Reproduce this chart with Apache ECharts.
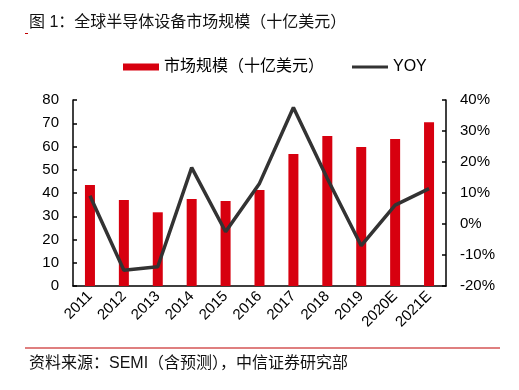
<!DOCTYPE html>
<html><head><meta charset="utf-8">
<script src="https://cdn.jsdelivr.net/npm/echarts@6/dist/echarts.min.js"></script>
<style>html,body{margin:0;padding:0;background:#fff}#c{width:519px;height:390px}</style>
</head><body><div id="c"></div>
<script>
const categories = ['2011','2012','2013','2014','2015','2016','2017','2018','2019','2020E','2021E'];
const marketSize = [43.4, 37.0, 31.7, 37.4, 36.6, 41.3, 56.8, 64.5, 59.8, 63.2, 70.4];
const yoy = [9.1, -14.9, -13.8, 18.2, -2.5, 13.1, 37.6, 14.7, -7.0, 6.1, 11.4];
const leftTicks = {min: 0, max: 80, interval: 10};
const rightTicks = {min: -20, max: 40, interval: 10};
const titleText = '图 1：全球半导体设备市场规模（十亿美元）';
const sourceText = '资料来源：SEMI（含预测），中信证券研究部';
const seriesNames = ['市场规模（十亿美元）', 'YOY'];

const FONT = '"Liberation Sans", Arial, "Noto Sans CJK SC", sans-serif';
const chart = echarts.init(document.getElementById('c'), null, {renderer: 'canvas'});
chart.setOption({
  animation: false,
  textStyle: {fontFamily: FONT},
  grid: {left: 73, right: 73, top: 100, bottom: 104},
  legend: {
    left: 118, top: 54, itemGap: 28, itemWidth: 36, itemHeight: 7,
    textStyle: {fontSize: 16, color: '#000', fontFamily: FONT},
    data: [{name: seriesNames[0], icon: 'rect'},
           {name: seriesNames[1], icon: 'path://M0,0 L40,0 L40,3.5 L0,3.5 Z'}]
  },
  graphic: [
    {type: 'text', left: 29, top: 15, style: {text: titleText, font: '16px ' + FONT, fill: '#111'}},
    {type: 'rect', shape: {x: 25, y: 33, width: 3, height: 1}, style: {fill: '#c00000'}},
    {type: 'rect', shape: {x: 25, y: 347.5, width: 475, height: 1}, style: {fill: '#c00000'}},
    {type: 'text', left: 29, top: 356, style: {text: sourceText, font: '16px ' + FONT, fill: '#111'}}
  ],
  xAxis: {
    type: 'category', data: categories, boundaryGap: true,
    axisLine: {show: true, lineStyle: {color: '#000', width: 1.5}},
    axisTick: {show: false},
    axisLabel: {rotate: 45, margin: 8, fontSize: 15, color: '#000', interval: 0, fontFamily: FONT}
  },
  yAxis: [
    {type: 'value', min: leftTicks.min, max: leftTicks.max, interval: leftTicks.interval,
     axisLine: {show: true, lineStyle: {color: '#000', width: 1.5}},
     axisTick: {show: true, inside: true, length: 4, lineStyle: {color: '#000', width: 1.5}},
     splitLine: {show: false},
     axisLabel: {fontSize: 15, color: '#000', margin: 14, fontFamily: FONT}},
    {type: 'value', min: rightTicks.min, max: rightTicks.max, interval: rightTicks.interval,
     axisLine: {show: true, lineStyle: {color: '#000', width: 1.5}},
     axisTick: {show: true, inside: true, length: 4, lineStyle: {color: '#000', width: 1.5}},
     splitLine: {show: false},
     axisLabel: {fontSize: 15, color: '#000', margin: 14, formatter: '{value}%', fontFamily: FONT}}
  ],
  series: [
    {name: seriesNames[0], type: 'bar', data: marketSize, barWidth: 10, yAxisIndex: 0,
     itemStyle: {color: '#D7000F'}},
    {name: seriesNames[1], type: 'line', data: yoy, yAxisIndex: 1, symbol: 'none',
     lineStyle: {color: '#333333', width: 3.5}, itemStyle: {color: '#333333'}}
  ]
});
</script></body></html>
